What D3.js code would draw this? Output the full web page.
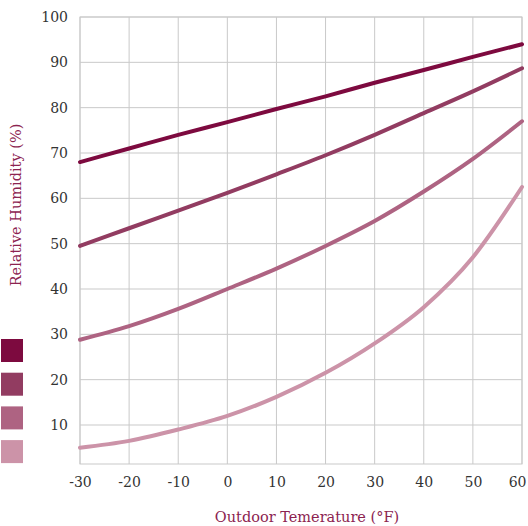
<!DOCTYPE html>
<html><head><meta charset="utf-8">
<script src="https://cdn.jsdelivr.net/npm/d3@7"></script>
<style>body{margin:0;background:#fff}svg{display:block}text{font-family:"DejaVu Serif",serif}</style>
</head><body>
<svg id="c" width="528" height="526"></svg>
<script>
const temps = [-30,-20,-10,0,10,20,30,40,50,60];
const series1 = [68,71,74,76.8,79.7,82.5,85.5,88.3,91.2,94];
const series2 = [49.5,53.4,57.3,61.2,65.3,69.5,74,78.8,83.6,88.7];
const series3 = [28.8,31.8,35.6,40,44.5,49.5,55,61.5,68.7,77];
const series4 = [5,6.5,9,12,16.2,21.5,28,36,47,62.5];
const seriesColors = ["#7d0a3f","#923c61","#ae6382","#cc93a8"];
const xTicks = [-30,-20,-10,0,10,20,30,40,50,60];
const yTicks = [10,20,30,40,50,60,70,80,90,100];

const svg = d3.select("#c");
const L=80,R=522,T=17,B=464;
const x = d3.scaleLinear().domain([-30,60]).range([L,R]);
const yPer = (425-17)/90;
const y = d3.scaleLinear().domain([100-(B-T)/yPer,100]).range([B,T]);

const g = svg.append("g");
g.selectAll(".vg").data(xTicks).join("line")
 .attr("x1",d=>x(d)).attr("x2",d=>x(d)).attr("y1",T).attr("y2",B)
 .attr("stroke","#c9c9c9").attr("stroke-width",1);
g.selectAll(".hg").data(yTicks).join("line")
 .attr("x1",L).attr("x2",R).attr("y1",d=>y(d)).attr("y2",d=>y(d))
 .attr("stroke","#c9c9c9").attr("stroke-width",1);
g.append("rect").attr("x",L).attr("y",T).attr("width",R-L).attr("height",B-T)
 .attr("fill","none").attr("stroke","#c9c9c9");

const fmt = d => String(d);
const yAxis = d3.axisLeft(y).tickValues(yTicks).tickSize(0).tickPadding(12).tickFormat(fmt);
const ya = svg.append("g").attr("transform",`translate(${L},0)`).call(yAxis);
ya.select(".domain").remove();
ya.selectAll("text").attr("font-size",14).attr("fill","#333").attr("font-family","DejaVu Serif");
const xAxis = d3.axisBottom(x).tickValues(xTicks).tickSize(0).tickPadding(13).tickFormat(fmt);
const xa = svg.append("g").attr("transform",`translate(0,${B})`).call(xAxis);
xa.select(".domain").remove();
xa.selectAll("text").attr("font-size",14).attr("fill","#333").attr("font-family","DejaVu Serif")
 .attr("text-anchor",(d,i)=> i===xTicks.length-1 ? "end" : "middle")
 .attr("dx",(d,i)=> i===xTicks.length-1 ? 4 : 0);

const all = [series1,series2,series3,series4];
const line = d3.line().x((d,i)=>x(temps[i])).y(d=>y(d)).curve(d3.curveMonotoneX);
svg.append("g").selectAll("path").data(all).join("path")
 .attr("d",line).attr("fill","none").attr("stroke",(d,i)=>seriesColors[i])
 .attr("stroke-width",4).attr("stroke-linecap","round");

svg.append("g").selectAll("rect").data(seriesColors).join("rect")
 .attr("x",1).attr("y",(d,i)=>339+i*33.7).attr("width",22).attr("height",23)
 .attr("fill",d=>d);

svg.append("text").attr("transform","translate(21,205) rotate(-90)")
 .attr("text-anchor","middle").attr("font-size",14.5).attr("fill","#8c2350")
 .text("Relative Humidity (%)");
svg.append("text").attr("x",307).attr("y",522).attr("text-anchor","middle")
 .attr("font-size",14.5).attr("fill","#8c2350").text("Outdoor Temerature (°F)");
</script>
</body></html>
